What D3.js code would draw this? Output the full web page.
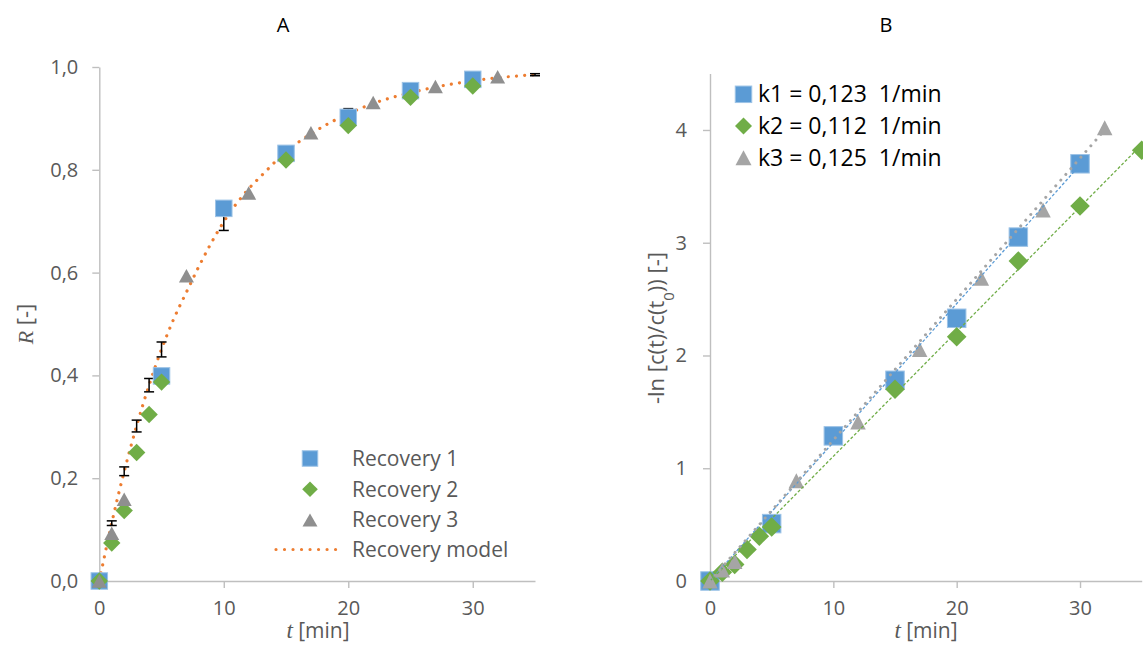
<!DOCTYPE html>
<html><head><meta charset="utf-8">
<script src="https://cdn.jsdelivr.net/npm/d3@7"></script>
<style>
html,body{margin:0;padding:0;background:#fff;}
text{font-family:"Open Sans",sans-serif;}
</style></head>
<body>
<svg id="chart" width="1143" height="646"></svg>
<script>
// ---------------- DATA ----------------
// Panel A: recovery R [-] vs time t [min]
const tRec1 = [0, 5, 10, 15, 20, 25, 30];
const rRec1 = [0, 0.399, 0.725, 0.832, 0.902, 0.954, 0.976];
const tRec2 = [0, 1, 2, 3, 4, 5, 15, 20, 25, 30];
const rRec2 = [0, 0.074, 0.137, 0.250, 0.324, 0.387, 0.819, 0.886, 0.941, 0.963];
const tRec3 = [0, 1, 2, 7, 12, 17, 22, 27, 32];
const rRec3 = [0, 0.093, 0.159, 0.594, 0.755, 0.872, 0.931, 0.962, 0.981];
const tModel = [0, 1, 2, 3, 4, 5, 6, 7, 8, 9, 10, 12, 13, 15, 17, 20, 22, 25, 27, 30, 32, 35];
const rModel = [0, 0.113, 0.213, 0.302, 0.381, 0.451, 0.511, 0.562, 0.612, 0.658, 0.699, 0.763, 0.788, 0.835, 0.870, 0.909, 0.929, 0.950, 0.961, 0.973, 0.979, 0.985];
const tErr = [1, 2, 3, 4, 5, 10, 20, 35];
const errLow = [0.108, 0.205, 0.290, 0.368, 0.436, 0.682, 0.891, 0.983];
const errHigh = [0.117, 0.222, 0.313, 0.394, 0.465, 0.716, 0.919, 0.987];
const legendA = ["Recovery 1", "Recovery 2", "Recovery 3", "Recovery model"];
const xTicksA = [0, 10, 20, 30];
const yTicksA = [0, 0.2, 0.4, 0.6, 0.8, 1.0];

// Panel B: -ln[c(t)/c(t0)] vs time
const tB1 = [0, 5, 10, 15, 20, 25, 30];
const vB1 = [0, 0.509, 1.287, 1.780, 2.330, 3.050, 3.700];
const tB2 = [0, 1, 2, 3, 4, 5, 15, 20, 25, 30, 35];
const vB2 = [0, 0.077, 0.147, 0.279, 0.397, 0.479, 1.700, 2.166, 2.838, 3.326, 3.820];
const tB3 = [0, 1, 2, 7, 12, 17, 22, 27, 32];
const vB3 = [0, 0.098, 0.173, 0.888, 1.410, 2.054, 2.684, 3.290, 4.020];
// linear trend lines (start / end points)
const trendT1 = [0, 30], trendV1 = [0, 3.69];
const trendT2 = [0, 35], trendV2 = [0, 3.87];
const trendT3 = [0, 32], trendV3 = [0, 4.00];
const legendB = ["k1 = 0,123  1/min", "k2 = 0,112  1/min", "k3 = 0,125  1/min"];
const xTicksB = [0, 10, 20, 30];
const yTicksB = [0, 1, 2, 3, 4];

// ---------------- STYLE ----------------
const BLUE = "#5B9BD5", BLUE_EDGE = "#9DC3E6", GREEN = "#70AD47", GRAY_A = "#8F8F8F", GRAY_B = "#A5A5A5", ORANGE = "#ED7D31";
const AXIS = "#BFBFBF", TXT = "#595959";

const svg = d3.select("#chart");

// ---------------- SCALES ----------------
const xA = d3.scaleLinear().domain([0, 35]).range([99.3, 535]);
const yA = d3.scaleLinear().domain([0, 1]).range([581, 67]);
const xB = d3.scaleLinear().domain([0, 35]).range([710, 1141.7]);
const yB = d3.scaleLinear().domain([0, 4.5]).range([581, 73.6]);

function styleAxis(g) {
  g.select(".domain").attr("stroke", AXIS).attr("stroke-width", 1.4);
  g.selectAll(".tick line").attr("stroke", AXIS).attr("stroke-width", 1.4);
  g.selectAll(".tick text").attr("fill", TXT).style("font-size", "20px").style("font-family", "'Open Sans',sans-serif");
}
const comma = d => d3.format(".1f")(d).replace(".", ",");

// Axes A
svg.append("g").attr("transform", `translate(0,${yA(0)})`)
  .call(d3.axisBottom(xA).tickValues(xTicksA).tickSize(7).tickSizeOuter(0).tickPadding(13)).call(styleAxis);
svg.append("g").attr("transform", `translate(${xA(0)},0)`)
  .call(d3.axisLeft(yA).tickValues(yTicksA).tickFormat(comma).tickSize(7).tickSizeOuter(0).tickPadding(14)).call(styleAxis);
// Axes B
svg.append("g").attr("transform", `translate(0,${yB(0)})`)
  .call(d3.axisBottom(xB).tickValues(xTicksB).tickSize(7).tickSizeOuter(0).tickPadding(13)).call(styleAxis);
svg.append("g").attr("transform", `translate(${xB(0)},0)`)
  .call(d3.axisLeft(yB).tickValues(yTicksB).tickFormat(d3.format("d")).tickSize(7).tickSizeOuter(0).tickPadding(16)).call(styleAxis);

// ---------------- MARKER SHAPES ----------------
function square(sel, s, fill, edge) {
  sel.append("rect").attr("x", -s / 2).attr("y", -s / 2).attr("width", s).attr("height", s)
    .attr("fill", fill).attr("stroke", edge).attr("stroke-width", 1);
}
function diamond(sel, r, fill) {
  sel.append("path").attr("d", `M0,${-r}L${r},0L0,${r}L${-r},0Z`).attr("fill", fill);
}
function triangle(sel, w, h, fill) {
  sel.append("path").attr("d", `M0,${-h / 2}L${w / 2},${h / 2}L${-w / 2},${h / 2}Z`).attr("fill", fill);
}
function drawMarkers(ts, vs, xs, ys, shapeFn) {
  const g = svg.append("g");
  ts.forEach((t, i) => {
    const m = g.append("g").attr("transform", `translate(${xs(t)},${ys(vs[i])})`);
    shapeFn(m);
  });
}

// ---------------- PANEL A ----------------
// model line
const modelPts = tModel.map((t, i) => [t, rModel[i]]);
svg.append("path").datum(modelPts)
  .attr("d", d3.line().x(d => xA(d[0])).y(d => yA(d[1])).curve(d3.curveMonotoneX))
  .attr("fill", "none").attr("stroke", ORANGE).attr("stroke-width", 3.2)
  .attr("stroke-linecap", "round").attr("stroke-dasharray", "0.01 8.2");
// error bars
const eg = svg.append("g").attr("stroke", "#000").attr("stroke-width", 1.5);
tErr.forEach((t, i) => {
  const x = xA(t), y1 = yA(errLow[i]), y2 = yA(errHigh[i]);
  eg.append("line").attr("x1", x).attr("x2", x).attr("y1", y1).attr("y2", y2);
  eg.append("line").attr("x1", x - 5).attr("x2", x + 5).attr("y1", y1).attr("y2", y1);
  eg.append("line").attr("x1", x - 5).attr("x2", x + 5).attr("y1", y2).attr("y2", y2);
});
drawMarkers(tRec1, rRec1, xA, yA, m => square(m, 16.5, BLUE, BLUE_EDGE));
drawMarkers(tRec2, rRec2, xA, yA, m => diamond(m, 8.7, GREEN));
drawMarkers(tRec3, rRec3, xA, yA, m => triangle(m, 15, 13.5, GRAY_A));

// legend A
const legAY = [458.5, 489.3, 520, 549.5];
const lgA = svg.append("g");
square(lgA.append("g").attr("transform", `translate(310,${legAY[0]})`), 15.5, BLUE, BLUE_EDGE);
diamond(lgA.append("g").attr("transform", `translate(310,${legAY[1]})`), 7.8, GREEN);
triangle(lgA.append("g").attr("transform", `translate(310,${legAY[2]})`), 15, 13, GRAY_A);
lgA.append("line").attr("x1", 276).attr("x2", 344).attr("y1", legAY[3]).attr("y2", legAY[3])
  .attr("stroke", ORANGE).attr("stroke-width", 3.2).attr("stroke-linecap", "round").attr("stroke-dasharray", "0.01 8.5");
legendA.forEach((s, i) => {
  lgA.append("text").attr("x", 352).attr("y", legAY[i]).attr("dy", "0.35em")
    .attr("fill", TXT).style("font-size", "21px").text(s);
});

// titles & labels A
svg.append("text").attr("x", 283).attr("y", 25).attr("dy", "0.35em").attr("text-anchor", "middle")
  .style("font-size", "20px").attr("fill", "#000").text("A");
const xlA = svg.append("text").attr("x", 318).attr("y", 631).attr("dy", "0.35em").attr("text-anchor", "middle")
  .attr("fill", TXT).style("font-size", "21px");
xlA.append("tspan").style("font-family", "'Liberation Serif',serif").style("font-style", "italic").style("font-size", "23px").text("t");
xlA.append("tspan").text(" [min]");
const ylA = svg.append("text").attr("transform", "translate(25,324) rotate(-90)").attr("dy", "0.35em")
  .attr("text-anchor", "middle").attr("fill", TXT).style("font-size", "22px");
ylA.append("tspan").style("font-family", "'Liberation Serif',serif").style("font-style", "italic").text("R");
ylA.append("tspan").text(" [-]");

// ---------------- PANEL B ----------------
drawMarkers(tB1, vB1, xB, yB, m => square(m, 18.5, BLUE, BLUE_EDGE));
drawMarkers(tB2, vB2, xB, yB, m => diamond(m, 9.8, GREEN));
drawMarkers(tB3, vB3, xB, yB, m => triangle(m, 15.5, 15, GRAY_B));

const lineB = d3.line().x(d => xB(d[0])).y(d => yB(d[1]));
svg.append("path").datum(trendT1.map((t, i) => [t, trendV1[i]])).attr("d", lineB)
  .attr("fill", "none").attr("stroke", BLUE).attr("stroke-width", 1.3).attr("stroke-dasharray", "3 2");
svg.append("path").datum(trendT2.map((t, i) => [t, trendV2[i]])).attr("d", lineB)
  .attr("fill", "none").attr("stroke", GREEN).attr("stroke-width", 1.3).attr("stroke-dasharray", "3 2");
svg.append("path").datum(trendT3.map((t, i) => [t, trendV3[i]])).attr("d", lineB)
  .attr("fill", "none").attr("stroke", GRAY_B).attr("stroke-width", 3).attr("stroke-linecap", "round")
  .attr("stroke-dasharray", "0.01 7.6");

// legend B
const legBY = [94.3, 126, 157.7];
const lgB = svg.append("g");
square(lgB.append("g").attr("transform", `translate(743.5,${legBY[0]})`), 16.5, BLUE, BLUE_EDGE);
diamond(lgB.append("g").attr("transform", `translate(743.5,${legBY[1]})`), 8.5, GREEN);
triangle(lgB.append("g").attr("transform", `translate(743.5,${legBY[2]})`), 16, 15, GRAY_B);
legendB.forEach((s, i) => {
  lgB.append("text").attr("x", 758).attr("y", legBY[i]).attr("dy", "0.35em")
    .attr("fill", "#000").style("font-size", "23px").style("white-space", "pre").text(s);
});

svg.append("text").attr("x", 886).attr("y", 25).attr("dy", "0.35em").attr("text-anchor", "middle")
  .style("font-size", "20px").attr("fill", "#000").text("B");
const xlB = svg.append("text").attr("x", 926).attr("y", 631).attr("dy", "0.35em").attr("text-anchor", "middle")
  .attr("fill", TXT).style("font-size", "21px");
xlB.append("tspan").style("font-family", "'Liberation Serif',serif").style("font-style", "italic").style("font-size", "23px").text("t");
xlB.append("tspan").text(" [min]");
const ylB = svg.append("text").attr("transform", "translate(656,328) rotate(-90)").attr("dy", "0.35em")
  .attr("text-anchor", "middle").attr("fill", TXT).style("font-size", "22px");
ylB.append("tspan").text("-ln [c(t)/c(t");
ylB.append("tspan").attr("baseline-shift", "sub").style("font-size", "15px").text("0");
ylB.append("tspan").text(")) [-]");
</script>
</body></html>
